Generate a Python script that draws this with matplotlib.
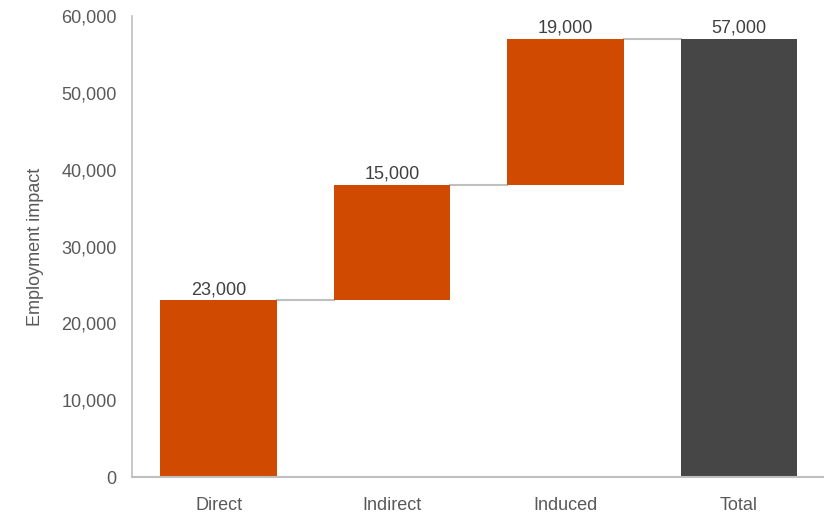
import numpy as np
import matplotlib.pyplot as plt

plt.rcParams['font.family'] = ['Liberation Sans', 'DejaVu Sans']

categories = ["Direct", "Indirect", "Induced", "Total"]
values = [23000, 15000, 19000, 57000]
bar_labels = ["23,000", "15,000", "19,000", "57,000"]
yticks = [0, 10000, 20000, 30000, 40000, 50000, 60000]

orange = "#D04A02"
dark = "#464646"
grey_line = "#BFBFBF"

# waterfall bases: steps stack on each other, total starts at zero
bottoms = list(np.cumsum([0] + values[:2])) + [0]
heights = values
colors = [orange, orange, orange, dark]

fig = plt.figure(figsize=(8.24, 5.17), dpi=100)
ax = fig.add_axes([0.160, 0.077, 0.842, 0.892])

x = np.arange(len(categories))
width = 0.67
ax.bar(x, heights, width, bottom=bottoms, color=colors, zorder=2)

# connector lines between bar tops
tops = [b + h for b, h in zip(bottoms, heights)]
for i in range(len(categories) - 1):
    ax.plot([x[i] + width / 2, x[i + 1] - width / 2], [tops[i], tops[i]],
            color=grey_line, lw=1.5, zorder=1)

for xi, t, lab in zip(x, tops, bar_labels):
    ax.text(xi, t + 300, lab, ha="center", va="bottom", fontsize=13, color="#404040")

ax.set_xlim(-0.5, 3.5)
ax.set_ylim(0, 60000)
ax.set_yticks(yticks)
ax.set_yticklabels([f"{v:,}" for v in yticks])
ax.set_xticks(x)
ax.set_xticklabels(categories)
ax.tick_params(axis="both", length=0, labelsize=13, colors="#595959")
ax.tick_params(axis="y", pad=11)
ax.tick_params(axis="x", pad=14)
ax.set_ylabel("Employment impact", fontsize=13, color="#595959", labelpad=12)

for s in ["top", "right"]:
    ax.spines[s].set_visible(False)
ax.spines["left"].set_color(grey_line)
ax.spines["bottom"].set_color(grey_line)
ax.spines["left"].set_linewidth(1.2)
ax.spines["bottom"].set_linewidth(1.5)

plt.savefig("out.png", dpi=100)
